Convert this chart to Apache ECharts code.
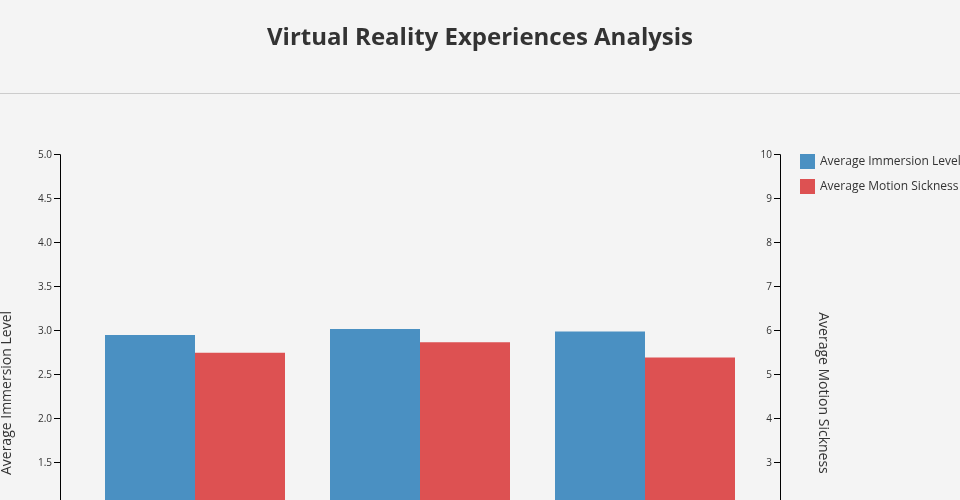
<!DOCTYPE html>
<html><head><meta charset="utf-8">
<script src="https://cdn.jsdelivr.net/npm/echarts@6/dist/echarts.min.js"></script>
<style>html,body{margin:0;padding:0;background:#f4f4f4;overflow:hidden;height:500px}#c{width:960px;height:660px}</style>
</head><body><div id="c"></div>
<script>
const categories = ['Experience A', 'Experience B', 'Experience C'];
const immersion = [2.95, 3.02, 2.99];
const motionSickness = [5.5, 5.74, 5.39];
const leftTicks = [0, 5, 0.5];
const rightTicks = [0, 10, 1];
const FONT = '"Open Sans", sans-serif';
const chart = echarts.init(document.getElementById('c'), null, {renderer: 'canvas'});
chart.setOption({
  backgroundColor: '#f4f4f4',
  animation: false,
  title: {
    text: 'Virtual Reality Experiences Analysis', left: 'center', top: 21,
    textStyle: {fontFamily: FONT, fontSize: 24, fontWeight: 'bold', color: '#333'}
  },
  legend: {
    orient: 'vertical', left: 800, top: 154, padding: 0, itemWidth: 15, itemHeight: 15, itemGap: 10,
    icon: 'rect',
    textStyle: {fontFamily: FONT, fontSize: 12, color: '#333'}
  },
  grid: {left: 82.5, top: 154.7, width: 675, height: 440, containLabel: false},
  xAxis: {
    type: 'category', data: categories,
    axisLine: {lineStyle: {color: '#000'}}, axisTick: {show: false},
    axisLabel: {show: false}
  },
  yAxis: [{
    type: 'value', position: 'left', offset: 22.5,
    min: leftTicks[0], max: leftTicks[1], interval: leftTicks[2],
    axisLine: {show: true, lineStyle: {color: '#000', width: 1}},
    axisTick: {show: true, length: 6, lineStyle: {color: '#000'}},
    splitLine: {show: false},
    axisLabel: {margin: 8, fontFamily: FONT, fontSize: 10, color: '#333', formatter: v => v.toFixed(1)}
  }, {
    type: 'value', position: 'right', offset: 22.5,
    min: rightTicks[0], max: rightTicks[1], interval: rightTicks[2],
    axisLine: {show: true, lineStyle: {color: '#000', width: 1}},
    axisTick: {show: true, inside: true, length: 6, lineStyle: {color: '#000'}},
    splitLine: {show: false},
    axisLabel: {inside: true, margin: 8, fontFamily: FONT, fontSize: 10, color: '#333'}
  }],
  series: [{
    name: 'Average Immersion Level', type: 'bar', yAxisIndex: 0, data: immersion,
    barWidth: 90, barGap: '0%', itemStyle: {color: '#4a90c2'}
  }, {
    name: 'Average Motion Sickness', type: 'bar', yAxisIndex: 1, data: motionSickness,
    barWidth: 90, barGap: '0%', itemStyle: {color: '#dd5152'}
  }],
  graphic: [
    {type: 'line', shape: {x1: 0, y1: 93.5, x2: 960, y2: 93.5}, style: {stroke: '#cccccc', lineWidth: 1}},
    {type: 'text', x: 7, y: 393, rotation: Math.PI / 2,
     style: {text: 'Average Immersion Level', fontFamily: FONT, fontSize: 14, fill: '#333', align: 'center', verticalAlign: 'middle'}},
    {type: 'text', x: 823, y: 393, rotation: -Math.PI / 2,
     style: {text: 'Average Motion Sickness', fontFamily: FONT, fontSize: 14, fill: '#333', align: 'center', verticalAlign: 'middle'}}
  ]
});
</script></body></html>
